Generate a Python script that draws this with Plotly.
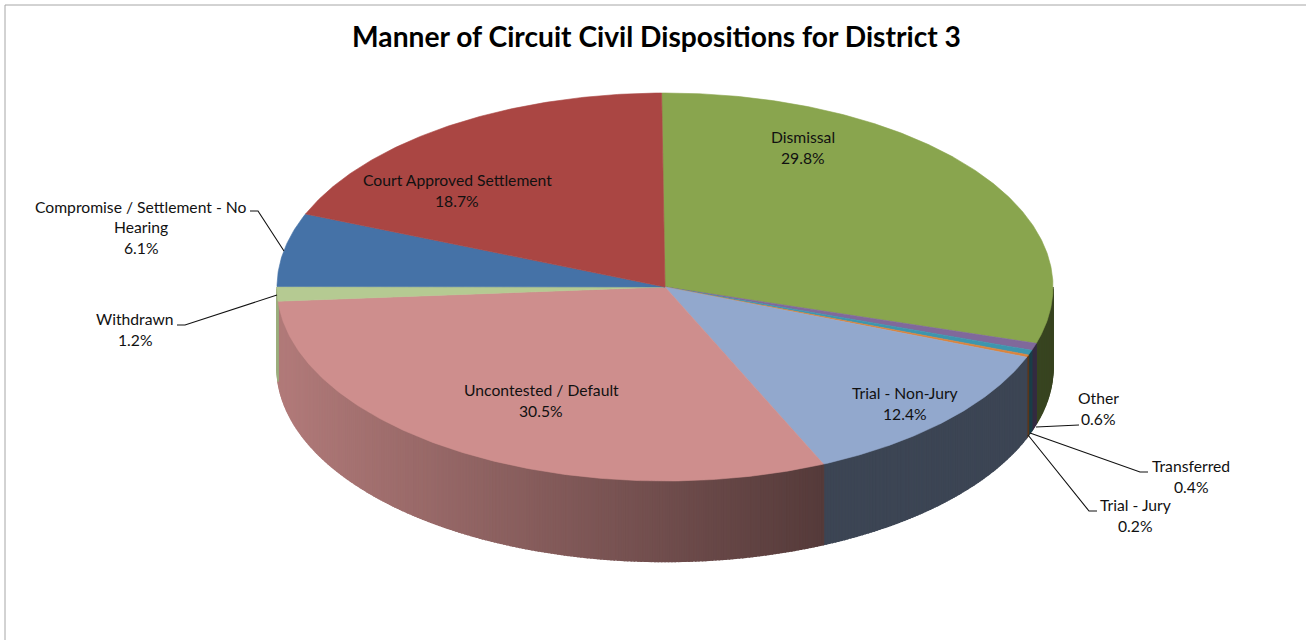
import math
import plotly.graph_objects as go

title = "Manner of Circuit Civil Dispositions for District 3"
categories = ["Dismissal", "Other", "Transferred", "Trial - Jury", "Trial - Non-Jury",
              "Uncontested / Default", "Withdrawn", "Compromise / Settlement - No Hearing",
              "Court Approved Settlement"]
values = [29.8, 0.6, 0.4, 0.2, 12.4, 30.5, 1.2, 6.1, 18.7]
colors = ["#89A54E", "#80699B", "#3D96AE", "#DB843D", "#92A8CD",
          "#CE8E8D", "#B5CA92", "#4572A7", "#AA4643"]

# label lines and their centres (pixels)
label_lines = {
    "Dismissal": [(803, 136.5, "Dismissal"), (803, 157.5, "29.8%")],
    "Other": [(1098, 397.5, "Other"), (1098, 418.5, "0.6%")],
    "Transferred": [(1191, 465.5, "Transferred"), (1191, 486.5, "0.4%")],
    "Trial - Jury": [(1135, 504.5, "Trial - Jury"), (1135, 525.5, "0.2%")],
    "Trial - Non-Jury": [(905, 392.5, "Trial - Non-Jury"), (905, 413.5, "12.4%")],
    "Uncontested": [(541, 389.5, "Uncontested / Default"), (541, 410.5, "30.5%")],
    "Withdrawn": [(135, 318.5, "Withdrawn"), (135, 339.5, "1.2%")],
    "Compromise": [(141, 206.5, "Compromise / Settlement - No"), (141, 226.5, "Hearing"), (141, 247.5, "6.1%")],
    "Court": [(457, 180, "Court Approved Settlement"), (457, 200.5, "18.7%")],
}
leaders = [
    [(250, 211), (258, 211), (284, 251)],
    [(177, 325), (185, 325), (277, 295)],
    [(1079, 425), (1036, 427)],
    [(1148, 472), (1140, 472), (1030, 433)],
    [(1097, 511), (1089, 511), (1028, 435)],
]

CX, CY, RX, RY, DEPTH = 665, 287, 388, 194, 80.5
START = -0.5


def pt(t, dy=0):
    r = math.radians(t)
    return CX + RX * math.sin(r), CY - RY * math.cos(r) + dy


def shade(hex_color, f):
    c = [int(hex_color[i:i + 2], 16) for i in (1, 3, 5)]
    return "rgb(%d,%d,%d)" % tuple(round(v * f) for v in c)


def wall_factor(x):
    return max(0.41, 0.86 - (x - 280) / 545 * 0.45)


fig = go.Figure()


def poly(xs, ys, color, lw=0.6):
    fig.add_trace(go.Scatter(x=xs, y=ys, mode="lines", fill="toself", fillcolor=color,
                             line=dict(color=color, width=lw), hoverinfo="skip", showlegend=False))


total = sum(values)
bounds = [START]
for v in values:
    bounds.append(bounds[-1] + v / total * 360)

# side wall, painted as overlapping strips
for i, col in enumerate(colors):
    a, b = max(bounds[i], 90), min(bounds[i + 1], 270)
    if b <= a:
        continue
    n = max(1, int((b - a) / 0.5))
    for k in range(n):
        t0 = a + (b - a) * k / n
        t1 = a + (b - a) * (k + 1) / n
        x0, y0 = pt(t0)
        x1, y1 = pt(t1)
        xs = [x0, x1, x1, x0, x0]
        ys = [y0, y1, y1 + DEPTH, y0 + DEPTH, y0]
        poly(xs, ys, shade(col, wall_factor((x0 + x1) / 2)), lw=1.5)

# top face
for i, col in enumerate(colors):
    a, b = bounds[i], bounds[i + 1]
    n = max(2, int(b - a) * 2)
    arc = [pt(a + (b - a) * k / n) for k in range(n + 1)]
    poly([CX] + [p[0] for p in arc] + [CX], [CY] + [p[1] for p in arc] + [CY], col)

# leader lines
for seg in leaders:
    fig.add_trace(go.Scatter(x=[p[0] for p in seg], y=[p[1] for p in seg], mode="lines",
                             line=dict(color="#111111", width=1.1), hoverinfo="skip", showlegend=False))

annotations = []
for lines in label_lines.values():
    for x, y, txt in lines:
        annotations.append(dict(x=x, y=y, text=txt, xref="x", yref="y", showarrow=False,
                                xanchor="center", yanchor="middle",
                                font=dict(family="Lato", size=15.7, color="#111111")))

fig.update_layout(
    width=1306, height=640, margin=dict(l=0, r=0, t=0, b=0),
    paper_bgcolor="white", plot_bgcolor="white", showlegend=False,
    title=dict(text="<b>" + title + "</b>", x=656.5 / 1306, xanchor="center", y=1 - 37 / 640, yanchor="middle",
               font=dict(family="Lato", size=28.2, color="#000000")),
    xaxis=dict(range=[0, 1306], visible=False, fixedrange=True),
    yaxis=dict(range=[640, 0], visible=False, fixedrange=True),
    annotations=annotations,
    shapes=[
        dict(type="line", xref="x", yref="y", x0=5, y0=5, x1=5, y1=640, line=dict(color="#A6A6A6", width=1)),
        dict(type="line", xref="x", yref="y", x0=5, y0=5, x1=1306, y1=5, line=dict(color="#A6A6A6", width=1)),
    ],
)
fig.write_html("out.html", config=dict(displayModeBar=False),
               post_script="document.body.style.margin='0';document.body.style.overflow='hidden';")
